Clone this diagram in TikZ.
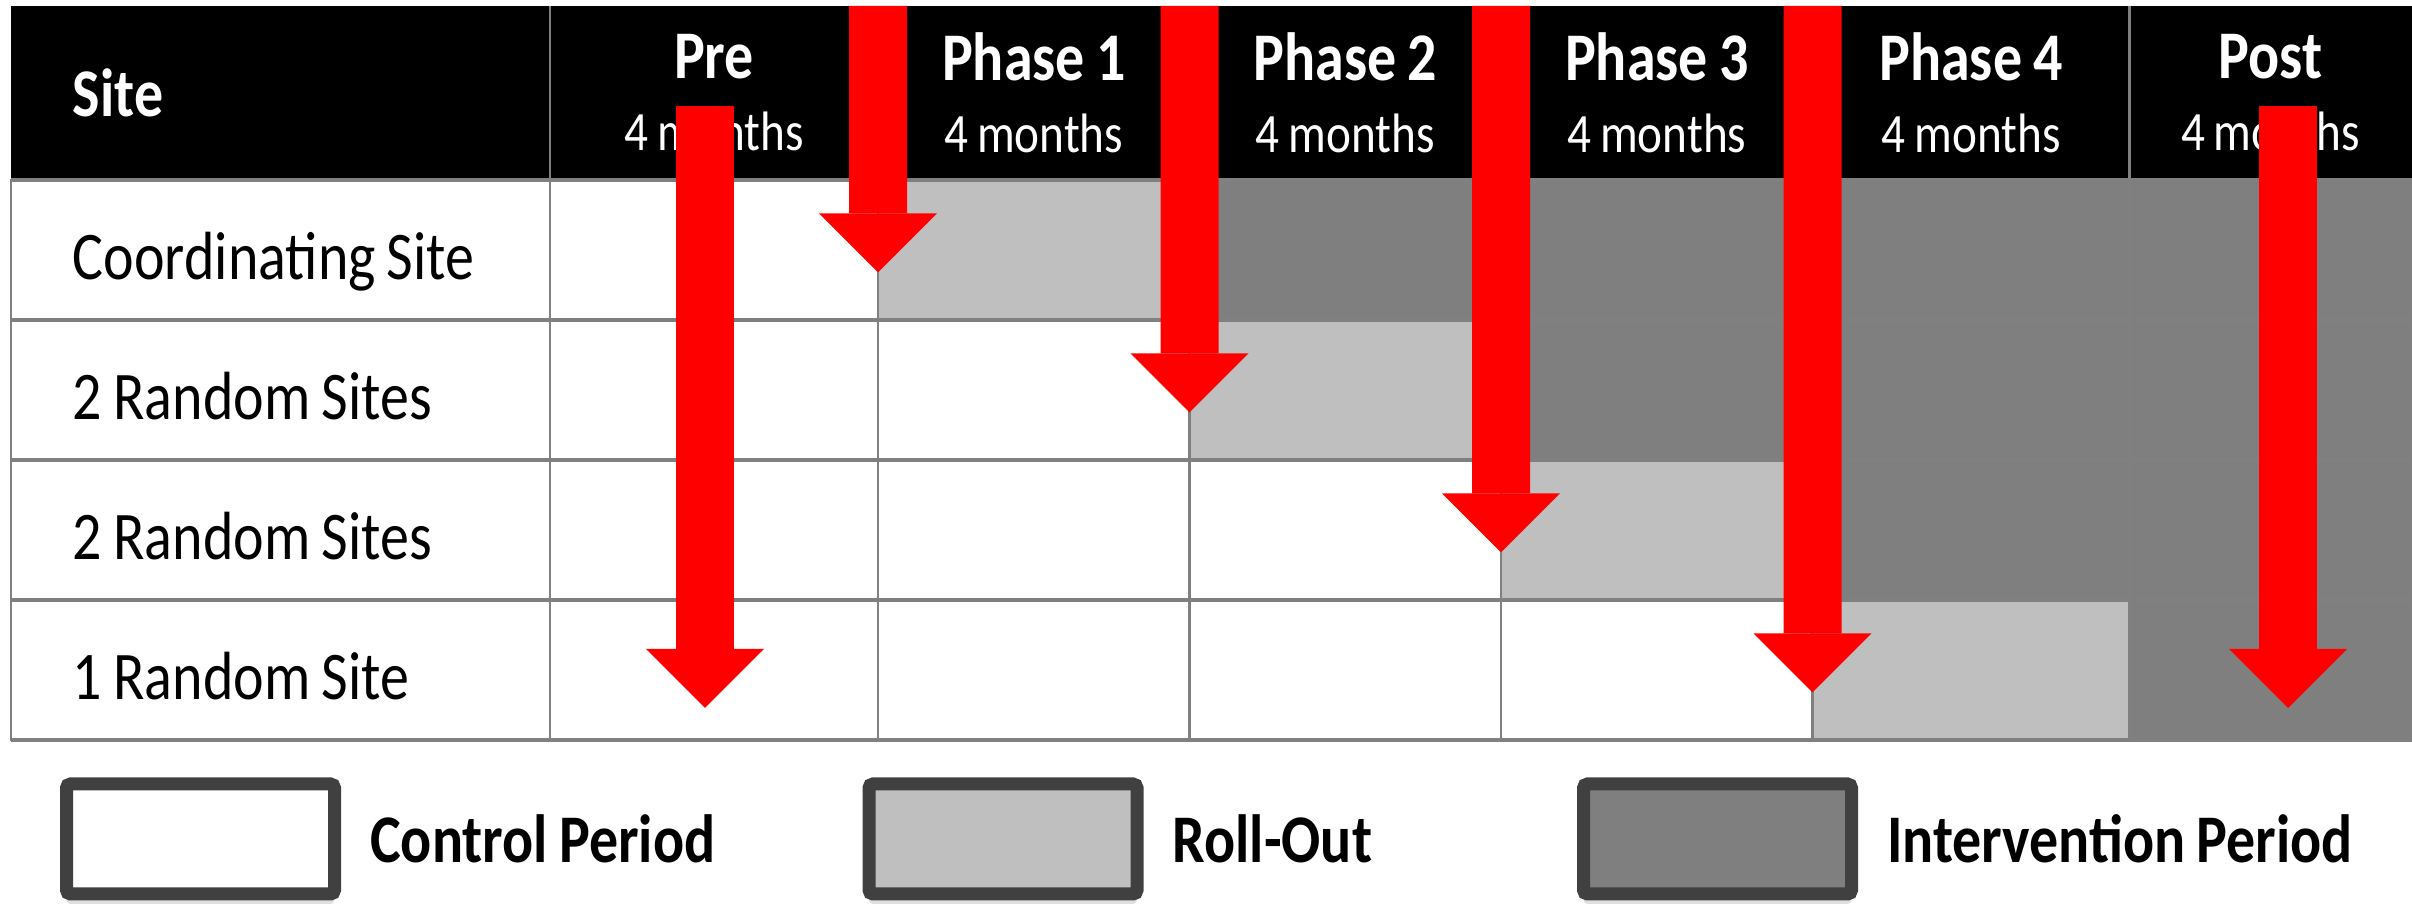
\documentclass[tikz,border=0pt]{standalone}
\usepackage{fontspec}
\setmainfont{Carlito}[FakeStretch=0.85,WordSpace=0.85]
\usepackage{tikz}
\usetikzlibrary{chains,positioning,calc,shadows,arrows.meta}

\definecolor{gridgray}{HTML}{808080}
\definecolor{rollout}{HTML}{BFBFBF}
\definecolor{interv}{HTML}{7F7F7F}
\definecolor{legborder}{HTML}{404040}

\newcommand{\bodyfont}{\fontsize{19.4}{23}\selectfont}
\newcommand{\hdfont}{\fontsize{19.4}{20.5}\selectfont\bfseries}
\newcommand{\subfont}{\fontsize{15.8}{20.5}\selectfont}

\tikzstyle{cell}=[draw=gridgray,line width=0.25mm,minimum height=1.4cm,inner sep=0pt,outer sep=0pt,text height=5.9mm,text depth=0pt,font=\bodyfont]
\tikzstyle{hdcell}=[fill=black,text=white,minimum height=1.74cm,inner sep=0pt,outer sep=0pt,align=center,font=\subfont]
\tikzstyle{sitecol}=[minimum width=5.39cm,text width=4.15cm,inner xsep=6.2mm,align=flush left]
\tikzstyle{wpre}=[minimum width=3.28cm]
\tikzstyle{wphase}=[minimum width=3.115cm]
\tikzstyle{wfour}=[minimum width=3.17cm]
\tikzstyle{wpost}=[minimum width=2.82cm]
\tikzstyle{ctrlcell}=[fill=white]
\tikzstyle{rollcell}=[fill=rollout]
\tikzstyle{intcell}=[fill=interv]
\tikzstyle{hline}=[draw=gridgray,line width=0.45mm]
\tikzstyle{redarrow}=[draw=red,line width=5.8mm,-{Triangle[width=11.8mm,length=5.9mm,line width=0pt]}]
\tikzstyle{legbox}=[draw=legborder,line width=1.3mm,minimum width=2.68cm,minimum height=1.1cm,outer sep=0pt,rounded corners=0.4mm,drop shadow={shadow xshift=0mm,shadow yshift=-1mm,opacity=0.25}]
\tikzstyle{legtext}=[inner sep=0pt,font=\hdfont]

\begin{document}
\begin{tikzpicture}
\useasboundingbox (0,0) rectangle (24.12,-9.16);
\clip (0,0) rectangle (24.12,-9.16);
% header
\begin{scope}[start chain=hd going right,node distance=0pt]
    \node [on chain=hd,hdcell,sitecol,anchor=north west] at (0.11,-0.06) {\hdfont Site};
    \node [on chain=hd,hdcell,wpre] {{\hdfont Pre}\\4 months};
    \node [on chain=hd,hdcell,wphase] {{\hdfont Phase 1}\\4 months};
    \node [on chain=hd,hdcell,wphase] {{\hdfont Phase 2}\\4 months};
    \node [on chain=hd,hdcell,wphase] {{\hdfont Phase 3}\\4 months};
    \node [on chain=hd,hdcell,wfour] {{\hdfont Phase 4}\\4 months};
    \node [on chain=hd,hdcell,wpost] {{\hdfont Post}\\4 months};
\end{scope}
% sites
\begin{scope}[start chain=r1 going right,node distance=0pt]
    \node [on chain=r1,cell,ctrlcell,sitecol,anchor=north west] at (hd-1.south west) {Coordinating Site};
    \node [on chain=r1,cell,ctrlcell,wpre] {};
    \node [on chain=r1,cell,rollcell,wphase] {};
    \node [on chain=r1,cell,intcell,wphase] {};
    \node [on chain=r1,cell,intcell,wphase] {};
    \node [on chain=r1,cell,intcell,wfour] {};
    \node [on chain=r1,cell,intcell,wpost] {};
\end{scope}
\begin{scope}[start chain=r2 going right,node distance=0pt]
    \node [on chain=r2,cell,ctrlcell,sitecol,anchor=north west] at (r1-1.south west) {2 Random Sites};
    \node [on chain=r2,cell,ctrlcell,wpre] {};
    \node [on chain=r2,cell,ctrlcell,wphase] {};
    \node [on chain=r2,cell,rollcell,wphase] {};
    \node [on chain=r2,cell,intcell,wphase] {};
    \node [on chain=r2,cell,intcell,wfour] {};
    \node [on chain=r2,cell,intcell,wpost] {};
\end{scope}
\begin{scope}[start chain=r3 going right,node distance=0pt]
    \node [on chain=r3,cell,ctrlcell,sitecol,anchor=north west] at (r2-1.south west) {2 Random Sites};
    \node [on chain=r3,cell,ctrlcell,wpre] {};
    \node [on chain=r3,cell,ctrlcell,wphase] {};
    \node [on chain=r3,cell,ctrlcell,wphase] {};
    \node [on chain=r3,cell,rollcell,wphase] {};
    \node [on chain=r3,cell,intcell,wfour] {};
    \node [on chain=r3,cell,intcell,wpost] {};
\end{scope}
\begin{scope}[start chain=r4 going right,node distance=0pt]
    \node [on chain=r4,cell,ctrlcell,sitecol,anchor=north west] at (r3-1.south west) {1 Random Site};
    \node [on chain=r4,cell,ctrlcell,wpre] {};
    \node [on chain=r4,cell,ctrlcell,wphase] {};
    \node [on chain=r4,cell,ctrlcell,wphase] {};
    \node [on chain=r4,cell,ctrlcell,wphase] {};
    \node [on chain=r4,cell,rollcell,wfour] {};
    \node [on chain=r4,cell,intcell,wpost] {};
\end{scope}
% grid lines
\foreach \i in {1,...,6}
    \draw [gridgray,line width=0.25mm] (hd-\i.north east) -- (hd-\i.south east);
\draw [hline] (hd-1.south west) -- (hd-7.south east);
\foreach \r in {1,...,4}
    \draw [hline] (r\r-1.south west) -- (r\r-7.south east);
% roll-out markers
\draw [redarrow] ($(hd-2.center)+(-0.09,-0.13)$) -- ($(r4-2.south)+(-0.09,0.32)$);
\foreach \r/\c in {1/3,2/4,3/5,4/6}
    \draw [redarrow] (r\r-\c.west |- hd-1.north) -- ($(r\r-\c.south west)!0.34!(r\r-\c.north west)$);
\draw [redarrow] ($(hd-7.center)+(0.175,-0.13)$) -- ($(r4-7.south)+(0.175,0.32)$);
% legend
\node [legbox,fill=white] (legctrl) at (2.005,-8.39) {};
\node [legtext,right=3.5mm of legctrl] (legctrltxt) {Control Period};
\node [legbox,fill=rollout] (legroll) at (10.03,-8.39) {};
\node [legtext,right=3.5mm of legroll] (legrolltxt) {Roll-Out};
\node [legbox,fill=interv] (legint) at (17.175,-8.39) {};
\node [legtext,right=3.5mm of legint] (leginttxt) {Intervention Period};
\end{tikzpicture}
\end{document}
